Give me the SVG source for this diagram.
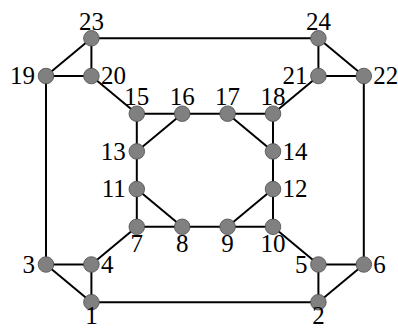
<svg xmlns="http://www.w3.org/2000/svg" width="398" height="329" viewBox="0 0 398 329">
<style>
.e{stroke:#000;stroke-width:2;fill:none}
.n{fill:#808080;stroke:#4d4d4d;stroke-width:0.8}
text{font-family:"Liberation Serif","Times New Roman",serif;font-size:25px;fill:#000}
.a,.b{text-anchor:middle}
.l{text-anchor:end}
.r{text-anchor:start}
</style>
<rect width="398" height="329" fill="#fff"/>
<g id="edges">
<line class="e" x1="91.4" y1="302.2" x2="318.4" y2="302.2"/>
<line class="e" x1="91.4" y1="302.2" x2="46" y2="264.5"/>
<line class="e" x1="91.4" y1="302.2" x2="91.4" y2="264.5"/>
<line class="e" x1="46" y1="264.5" x2="91.4" y2="264.5"/>
<line class="e" x1="46" y1="264.5" x2="46" y2="76"/>
<line class="e" x1="91.4" y1="264.5" x2="136.8" y2="226.8"/>
<line class="e" x1="318.4" y1="302.2" x2="318.4" y2="264.5"/>
<line class="e" x1="318.4" y1="302.2" x2="363.8" y2="264.5"/>
<line class="e" x1="318.4" y1="264.5" x2="363.8" y2="264.5"/>
<line class="e" x1="318.4" y1="264.5" x2="273" y2="226.8"/>
<line class="e" x1="363.8" y1="264.5" x2="363.8" y2="76"/>
<line class="e" x1="136.8" y1="226.8" x2="273" y2="226.8"/>
<line class="e" x1="136.8" y1="226.8" x2="136.8" y2="113.7"/>
<line class="e" x1="182.2" y1="226.8" x2="136.8" y2="189.1"/>
<line class="e" x1="227.6" y1="226.8" x2="273" y2="189.1"/>
<line class="e" x1="273" y1="226.8" x2="273" y2="113.7"/>
<line class="e" x1="136.8" y1="151.4" x2="182.2" y2="113.7"/>
<line class="e" x1="136.8" y1="113.7" x2="273" y2="113.7"/>
<line class="e" x1="227.6" y1="113.7" x2="273" y2="151.4"/>
<line class="e" x1="136.8" y1="113.7" x2="91.4" y2="76"/>
<line class="e" x1="273" y1="113.7" x2="318.4" y2="76"/>
<line class="e" x1="46" y1="76" x2="91.4" y2="76"/>
<line class="e" x1="46" y1="76" x2="91.4" y2="38.3"/>
<line class="e" x1="91.4" y1="76" x2="91.4" y2="38.3"/>
<line class="e" x1="318.4" y1="76" x2="363.8" y2="76"/>
<line class="e" x1="318.4" y1="76" x2="318.4" y2="38.3"/>
<line class="e" x1="363.8" y1="76" x2="318.4" y2="38.3"/>
<line class="e" x1="91.4" y1="38.3" x2="318.4" y2="38.3"/>
</g>
<g id="n1"><circle class="n" cx="91.4" cy="302.2" r="7.8"/><text class="b" x="91.4" y="323.5">1</text></g>
<g id="n2"><circle class="n" cx="318.4" cy="302.2" r="7.8"/><text class="b" x="318.4" y="323.5">2</text></g>
<g id="n3"><circle class="n" cx="46" cy="264.5" r="7.8"/><text class="l" x="35" y="272.8">3</text></g>
<g id="n4"><circle class="n" cx="91.4" cy="264.5" r="7.8"/><text class="r" x="100.9" y="272.8">4</text></g>
<g id="n5"><circle class="n" cx="318.4" cy="264.5" r="7.8"/><text class="l" x="307.4" y="272.8">5</text></g>
<g id="n6"><circle class="n" cx="363.8" cy="264.5" r="7.8"/><text class="r" x="373.3" y="272.8">6</text></g>
<g id="n7"><circle class="n" cx="136.8" cy="226.8" r="7.8"/><text class="b" x="136.8" y="252.3">7</text></g>
<g id="n8"><circle class="n" cx="182.2" cy="226.8" r="7.8"/><text class="b" x="182.2" y="252.3">8</text></g>
<g id="n9"><circle class="n" cx="227.6" cy="226.8" r="7.8"/><text class="b" x="227.6" y="252.3">9</text></g>
<g id="n10"><circle class="n" cx="273" cy="226.8" r="7.8"/><text class="b" x="273" y="252.3">10</text></g>
<g id="n11"><circle class="n" cx="136.8" cy="189.1" r="7.8"/><text class="l" x="125.8" y="197.4">11</text></g>
<g id="n12"><circle class="n" cx="273" cy="189.1" r="7.8"/><text class="r" x="282.5" y="197.4">12</text></g>
<g id="n13"><circle class="n" cx="136.8" cy="151.4" r="7.8"/><text class="l" x="125.8" y="159.7">13</text></g>
<g id="n14"><circle class="n" cx="273" cy="151.4" r="7.8"/><text class="r" x="282.5" y="159.7">14</text></g>
<g id="n15"><circle class="n" cx="136.8" cy="113.7" r="7.8"/><text class="a" x="136.8" y="105.2">15</text></g>
<g id="n16"><circle class="n" cx="182.2" cy="113.7" r="7.8"/><text class="a" x="182.2" y="105.2">16</text></g>
<g id="n17"><circle class="n" cx="227.6" cy="113.7" r="7.8"/><text class="a" x="227.6" y="105.2">17</text></g>
<g id="n18"><circle class="n" cx="273" cy="113.7" r="7.8"/><text class="a" x="273" y="105.2">18</text></g>
<g id="n19"><circle class="n" cx="46" cy="76" r="7.8"/><text class="l" x="35" y="84.3">19</text></g>
<g id="n20"><circle class="n" cx="91.4" cy="76" r="7.8"/><text class="r" x="100.9" y="84.3">20</text></g>
<g id="n21"><circle class="n" cx="318.4" cy="76" r="7.8"/><text class="l" x="307.4" y="84.3">21</text></g>
<g id="n22"><circle class="n" cx="363.8" cy="76" r="7.8"/><text class="r" x="373.3" y="84.3">22</text></g>
<g id="n23"><circle class="n" cx="91.4" cy="38.3" r="7.8"/><text class="a" x="91.4" y="29.8">23</text></g>
<g id="n24"><circle class="n" cx="318.4" cy="38.3" r="7.8"/><text class="a" x="318.4" y="29.8">24</text></g>
</svg>
